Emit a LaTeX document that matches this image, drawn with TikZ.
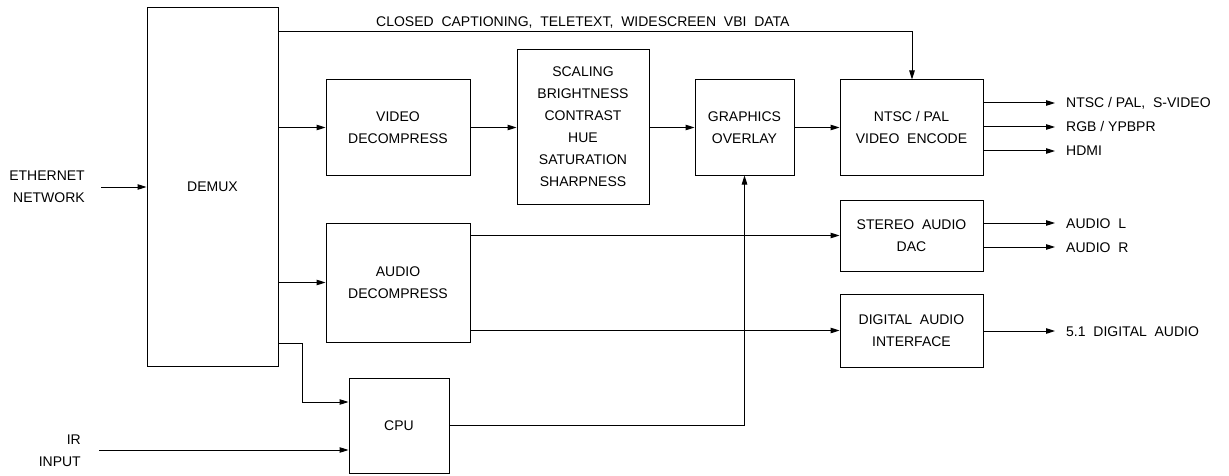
\documentclass[tikz,border=0pt]{standalone}
\usepackage{fontspec}
\setmainfont{Liberation Sans}
\usetikzlibrary{arrows.meta}
\begin{document}
\begin{tikzpicture}[x=1pt,y=-1pt,
  box/.style={draw,line width=1pt,inner sep=0pt,align=center,font=\fontsize{14}{22}\selectfont},
  lbl/.style={inner sep=0pt,font=\fontsize{14}{22}\selectfont},
  arr/.style={line width=1pt,-{Triangle[length=9pt,width=5.5pt]}},
  ln/.style={line width=1pt}]
\useasboundingbox (0,0) rectangle (1229,476);
% boxes
\node[box,minimum width=131pt,minimum height=358pt] (demux) at (212.5,187) {DEMUX};
\node[box,minimum width=144pt,minimum height=95pt] (vdec) at (398,127.5) {VIDEO\\DECOMPRESS};
\node[box,minimum width=132pt,minimum height=154pt] (scal) at (583,127) {SCALING\\BRIGHTNESS\\CONTRAST\\HUE\\SATURATION\\SHARPNESS};
\node[box,minimum width=99pt,minimum height=95pt] (gfx) at (744.5,127.5) {GRAPHICS\\OVERLAY};
\node[box,minimum width=143pt,minimum height=95pt] (ntsc) at (911.5,127.5) {NTSC / PAL\\VIDEO~~ENCODE};
\node[box,minimum width=143pt,minimum height=71pt] (dac) at (911.5,235.5) {STEREO~~AUDIO\\DAC};
\node[box,minimum width=143pt,minimum height=73pt] (dai) at (911.5,330.5) {DIGITAL~~AUDIO\\INTERFACE};
\node[box,minimum width=144pt,minimum height=119pt] (adec) at (398,282.5) {AUDIO\\DECOMPRESS};
\node[box,minimum width=100pt,minimum height=95pt] (cpu) at (399,425.5) {CPU};
% left labels
\node[lbl,align=right,anchor=east] (eth) at (85,187) {ETHERNET\\NETWORK};
\node[lbl,align=right,anchor=east] (ir) at (81,451) {IR\\INPUT};
\coordinate (ethS) at (101,187);
\coordinate (irS) at (99,450);
\draw[arr] (ethS) -- (ethS -| demux.west);
\draw[arr] (irS) -- (irS -| cpu.west);
% VBI data
\coordinate (vbi) at (912,32);
\node[lbl,anchor=base west] (vbil) at (376,27) {CLOSED~~CAPTIONING,~~TELETEXT,~~WIDESCREEN~~VBI~~DATA};
\draw[arr] (vbi -| demux.east) -- (vbi) -- (vbi |- ntsc.north);
% video chain
\draw[arr] (demux.east |- vdec.west) -- (vdec.west);
\draw[arr] (vdec.east) -- (vdec.east -| scal.west);
\draw[arr] (scal.east |- gfx.west) -- (gfx.west);
\draw[arr] (gfx.east) -- (ntsc.west);
% video outputs
\coordinate (o1) at (1055,103);
\coordinate (o2) at (1055,127);
\coordinate (o3) at (1055,151);
\draw[arr] (o1 -| ntsc.east) -- (o1);
\draw[arr] (o2 -| ntsc.east) -- (o2);
\draw[arr] (o3 -| ntsc.east) -- (o3);
\node[lbl,anchor=base west] (t1) at (1066,108) {NTSC / PAL,~~S-VIDEO};
\node[lbl,anchor=base west] (t2) at (1066,132) {RGB / YPBPR};
\node[lbl,anchor=base west] (t3) at (1066,156) {HDMI};
% audio
\draw[arr] (demux.east |- adec.west) -- (adec.west);
\draw[arr] (adec.east |- dac.west) -- (dac.west);
\draw[arr] (adec.east |- dai.west) -- (dai.west);
\coordinate (o4) at (1055,223);
\coordinate (o5) at (1055,247);
\coordinate (o6) at (1055,331);
\draw[arr] (o4 -| dac.east) -- (o4);
\draw[arr] (o5 -| dac.east) -- (o5);
\draw[arr] (o6 -| dai.east) -- (o6);
\node[lbl,anchor=base west] (t4) at (1066,228) {AUDIO~~L};
\node[lbl,anchor=base west] (t5) at (1066,252) {AUDIO~~R};
\node[lbl,anchor=base west] (t6) at (1066,336) {5.1~~DIGITAL~~AUDIO};
% cpu
\coordinate (dc1) at (302,343);
\draw[arr] (dc1 -| demux.east) -- (dc1) |- (cpu.west |- 0,402);
\draw[arr] (cpu.east) -| (gfx.south);
\end{tikzpicture}
\end{document}
